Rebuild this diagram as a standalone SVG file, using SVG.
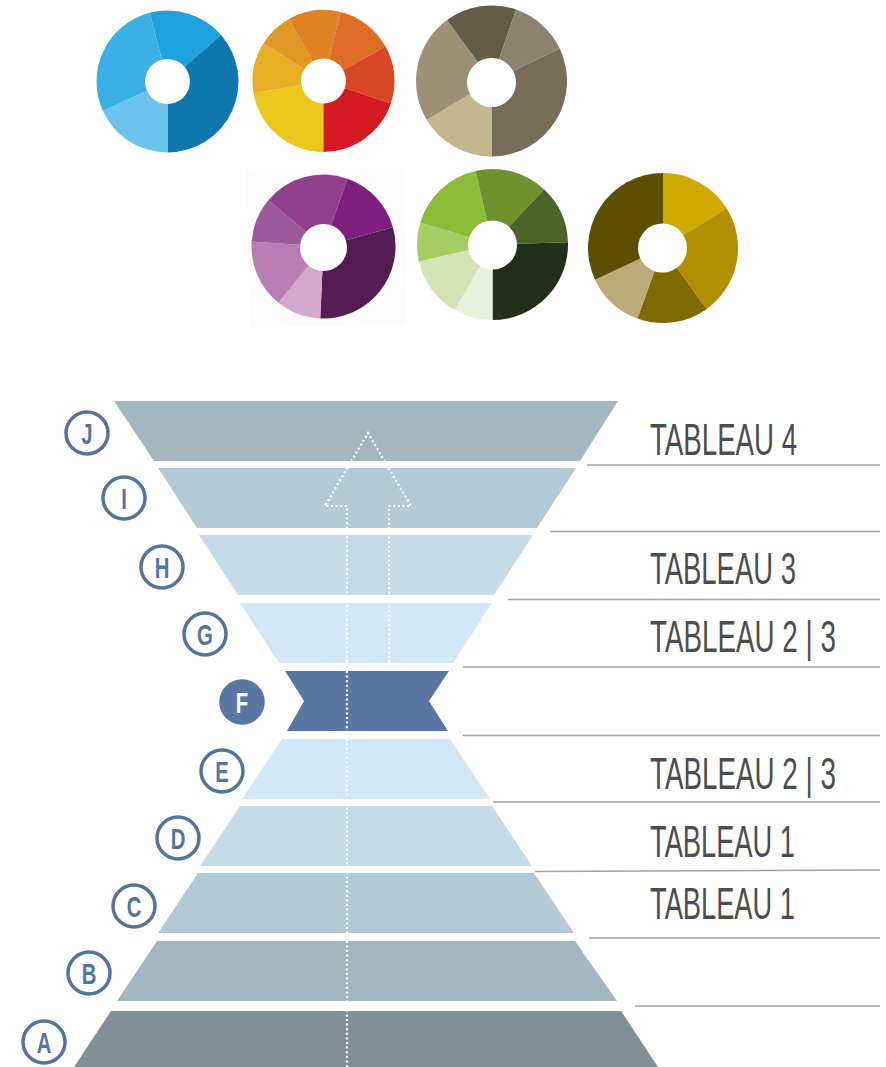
<svg xmlns="http://www.w3.org/2000/svg" width="886" height="1067" viewBox="0 0 886 1067">
<style>
.hole{fill:#fff}
.sep{stroke:#a3a3a3;stroke-width:1.5;fill:none}
.ring{fill:#fff;stroke:#5474a0;stroke-width:3.5}
.ringf{fill:#5878a3;stroke:#5878a3;stroke-width:3.5}
.let{font-family:"Liberation Sans",Arial,sans-serif;font-weight:bold;font-size:29px;fill:#5474a0;text-anchor:middle}
.letw{font-family:"Liberation Sans",Arial,sans-serif;font-weight:bold;font-size:29px;fill:#fff;text-anchor:middle}
.lab{font-family:"Liberation Sans",Arial,sans-serif;font-size:45px;fill:#4d4d4d}
.dots{fill:none;stroke:#fff;stroke-width:2.2;stroke-dasharray:2 2.6}
</style>
<rect width="886" height="1067" fill="#fff"/>

<g id="donut-blue">
<path d="M167.5,81.5 L149.72,12.76 A71,71 0 0 1 221.08,34.92 Z" fill="#1ea1dc"/>
<path d="M167.5,81.5 L221.08,34.92 A71,71 0 0 1 167.5,152.5 Z" fill="#0e78ad"/>
<path d="M167.5,81.5 L167.5,152.5 A71,71 0 0 1 102.84,110.83 Z" fill="#6ac4ed"/>
<path d="M167.5,81.5 L102.84,110.83 A71,71 0 0 1 149.72,12.76 Z" fill="#3bb0e5"/>
<circle class="hole" cx="167.5" cy="81.5" r="22.5"/>
</g>

<g id="donut-orange">
<path d="M323.5,81 L323.5,152 A71,71 0 0 1 253.58,93.33 Z" fill="#ecc71d"/>
<path d="M323.5,81 L253.58,93.33 A71,71 0 0 1 263.29,43.38 Z" fill="#e8ae24"/>
<path d="M323.5,81 L263.29,43.38 A71,71 0 0 1 289.08,18.9 Z" fill="#df9726"/>
<path d="M323.5,81 L289.08,18.9 A71,71 0 0 1 340.68,12.11 Z" fill="#e08126"/>
<path d="M323.5,81 L340.68,12.11 A71,71 0 0 1 385.6,46.58 Z" fill="#de6c24"/>
<path d="M323.5,81 L385.6,46.58 A71,71 0 0 1 390.83,103.53 Z" fill="#d84623"/>
<path d="M323.5,81 L390.83,103.53 A71,71 0 0 1 323.5,152 Z" fill="#d31a24"/>
<circle class="hole" cx="323.5" cy="81" r="22.5"/>
</g>

<g id="donut-taupe">
<path d="M491.5,81 L559.7,48.62 A75.5,75.5 0 0 1 491.5,156.5 Z" fill="#776d58"/>
<path d="M491.5,81 L491.5,156.5 A75.5,75.5 0 0 1 426.78,119.88 Z" fill="#c5b692"/>
<path d="M491.5,81 L426.78,119.88 A75.5,75.5 0 0 1 447.12,19.92 Z" fill="#9d9075"/>
<path d="M491.5,81 L447.12,19.92 A75.5,75.5 0 0 1 516.08,9.61 Z" fill="#655b47"/>
<path d="M491.5,81 L516.08,9.61 A75.5,75.5 0 0 1 559.7,48.62 Z" fill="#8c826b"/>
<circle class="hole" cx="491.5" cy="82.5" r="24.5"/>
</g>

<g id="donut-purple">
<rect x="248" y="168" width="157" height="158" fill="#fbfbfb" transform="rotate(-1 326 247)"/>
<path d="M323.5,246.5 L392.88,227.26 A72,72 0 0 1 320.23,318.43 Z" fill="#541c54"/>
<path d="M323.5,246.5 L320.23,318.43 A72,72 0 0 1 278.58,302.77 Z" fill="#d4a7cd"/>
<path d="M323.5,246.5 L278.58,302.77 A72,72 0 0 1 251.67,241.48 Z" fill="#b87db4"/>
<path d="M323.5,246.5 L251.67,241.48 A72,72 0 0 1 268.35,200.22 Z" fill="#9c5a9d"/>
<path d="M323.5,246.5 L268.35,200.22 A72,72 0 0 1 347.53,178.63 Z" fill="#8f3f8c"/>
<path d="M323.5,246.5 L347.53,178.63 A72,72 0 0 1 392.88,227.26 Z" fill="#7f1e7e"/>
<circle class="hole" cx="323.5" cy="247.5" r="23.5"/>
</g>

<g id="donut-green">
<path d="M492.5,244.5 L567.96,242.13 A75.5,75.5 0 0 1 492.5,320 Z" fill="#232f18"/>
<path d="M492.5,244.5 L492.5,320 A75.5,75.5 0 0 1 454.75,309.88 Z" fill="#e9f0db"/>
<path d="M492.5,244.5 L454.75,309.88 A75.5,75.5 0 0 1 418.93,261.49 Z" fill="#d3e3b3"/>
<path d="M492.5,244.5 L418.93,261.49 A75.5,75.5 0 0 1 420.3,222.42 Z" fill="#a6cc64"/>
<path d="M492.5,244.5 L420.3,222.42 A75.5,75.5 0 0 1 475.51,170.93 Z" fill="#8cbc38"/>
<path d="M492.5,244.5 L475.51,170.93 A75.5,75.5 0 0 1 543.99,189.28 Z" fill="#6e922e"/>
<path d="M492.5,244.5 L543.99,189.28 A75.5,75.5 0 0 1 567.96,242.13 Z" fill="#4a6326"/>
<circle class="hole" cx="492.5" cy="245" r="24.5"/>
</g>

<g id="donut-olive">
<path d="M663,248 L663,173 A75,75 0 0 1 726.6,208.26 Z" fill="#d0a900"/>
<path d="M663,248 L726.6,208.26 A75,75 0 0 1 706.45,309.13 Z" fill="#b28f00"/>
<path d="M663,248 L706.45,309.13 A75,75 0 0 1 637.35,318.48 Z" fill="#7e6a00"/>
<path d="M663,248 L637.35,318.48 A75,75 0 0 1 595.03,279.7 Z" fill="#bcab78"/>
<path d="M663,248 L595.03,279.7 A75,75 0 0 1 663,173 Z" fill="#5d4e00"/>
<circle class="hole" cx="662.5" cy="248" r="24.5"/>
</g>

<g id="separators">
<line class="sep" x1="587" y1="465" x2="880" y2="465"/>
<line class="sep" x1="550" y1="531.5" x2="880" y2="531.5"/>
<line class="sep" x1="508" y1="599.5" x2="880" y2="599.5"/>
<line class="sep" x1="463" y1="667" x2="880" y2="667"/>
<line class="sep" x1="463" y1="735.5" x2="880" y2="735.5"/>
<line class="sep" x1="493" y1="802" x2="880" y2="802"/>
<line class="sep" x1="535" y1="871.5" x2="880" y2="870"/>
<line class="sep" x1="589" y1="938" x2="880" y2="938"/>
<line class="sep" x1="635" y1="1006" x2="880" y2="1006"/>
</g>

<g id="layer-J"><polygon points="114,401 618,401 580,461 154,461" fill="#a2b7c0"/></g>
<g id="layer-I"><polygon points="158,468 576,468 537,528 197,528" fill="#b3c9d5"/></g>
<g id="layer-H"><polygon points="199,535 533,535 494,595 238,595" fill="#c5dbe8"/></g>
<g id="layer-G"><polygon points="240,603 492,603 453,663 279,663" fill="#d3e8f6"/></g>
<g id="layer-E"><polygon points="282,739 450,739 490,799 242,799" fill="#d3e8f6"/></g>
<g id="layer-D"><polygon points="240,806 492,806 532,866 200,866" fill="#c5dbe8"/></g>
<g id="layer-C"><polygon points="198,873 534,873 574,933 158,933" fill="#b3c9d5"/></g>
<g id="layer-B"><polygon points="157,941 575,941 617,1001 117,1001" fill="#a2b7c0"/></g>
<g id="layer-A"><polygon points="111,1011 621,1011 658,1067 74,1067" fill="#818f98"/></g>

<g id="arrow">
<path class="dots" d="M347,1067 L347,506 L325,506 L368,433 L411,506 L389,506 L389,663"/>
</g>

<g id="layer-F"><polygon points="285,671 449,671 429,701 448,731 287,731 304,701" fill="#5878a3"/>
<line class="dots" x1="347" y1="671" x2="347" y2="731"/></g>

<g id="label-J"><circle class="ring" cx="87" cy="433" r="21"/><text class="let" transform="translate(87,443.5) scale(0.7,1)">J</text></g>
<g id="label-I"><circle class="ring" cx="124" cy="498" r="21"/><text class="let" transform="translate(124,508.5) scale(0.7,1)">I</text></g>
<g id="label-H"><circle class="ring" cx="162" cy="567" r="21"/><text class="let" transform="translate(162,577.5) scale(0.7,1)">H</text></g>
<g id="label-G"><circle class="ring" cx="205" cy="634" r="21"/><text class="let" transform="translate(205,644.5) scale(0.7,1)">G</text></g>
<g id="label-F"><circle class="ringf" cx="242" cy="702" r="21"/><text class="letw" transform="translate(242,712.5) scale(0.7,1)">F</text></g>
<g id="label-E"><circle class="ring" cx="222" cy="771" r="21"/><text class="let" transform="translate(222,781.5) scale(0.7,1)">E</text></g>
<g id="label-D"><circle class="ring" cx="178" cy="838" r="21"/><text class="let" transform="translate(178,848.5) scale(0.7,1)">D</text></g>
<g id="label-C"><circle class="ring" cx="134" cy="906" r="21"/><text class="let" transform="translate(134,916.5) scale(0.7,1)">C</text></g>
<g id="label-B"><circle class="ring" cx="89" cy="973" r="21"/><text class="let" transform="translate(89,983.5) scale(0.7,1)">B</text></g>
<g id="label-A"><circle class="ring" cx="44" cy="1042" r="21"/><text class="let" transform="translate(44,1052.5) scale(0.7,1)">A</text></g>

<g id="tableaux">
<text class="lab" transform="translate(650,455) scale(0.615,1)">TABLEAU 4</text>
<text class="lab" transform="translate(650,584) scale(0.61,1)">TABLEAU 3</text>
<text class="lab" transform="translate(650,652) scale(0.618,1)">TABLEAU 2 | 3</text>
<text class="lab" transform="translate(650,789) scale(0.618,1)">TABLEAU 2 | 3</text>
<text class="lab" transform="translate(650,857) scale(0.606,1)">TABLEAU 1</text>
<text class="lab" transform="translate(650,919) scale(0.606,1)">TABLEAU 1</text>
</g>
</svg>
